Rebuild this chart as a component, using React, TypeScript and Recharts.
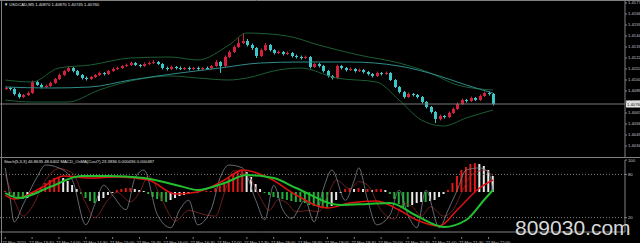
import { ComposedChart, Bar, Line, XAxis, YAxis, ReferenceLine, Cell } from 'recharts';

// USDCAD M5 candles, bar index 0..109
const opens = [
  1.40915, 1.4092, 1.4091, 1.4086, 1.4083, 1.4085, 1.4087, 1.4098, 1.4095, 1.4093,
  1.4094, 1.4097, 1.4101, 1.4105, 1.4109, 1.4112, 1.4109, 1.4105, 1.4102, 1.4101,
  1.4103, 1.4105, 1.4107, 1.4106, 1.4109, 1.4111, 1.4112, 1.4114, 1.4115, 1.4117,
  1.4115, 1.4114, 1.4116, 1.4117, 1.4118, 1.4116, 1.4112, 1.4111, 1.4113, 1.4112,
  1.4111, 1.4112, 1.4111, 1.4112, 1.4111, 1.4112, 1.41115, 1.4114, 1.4118, 1.4114,
  1.4123, 1.4128, 1.4133, 1.4137, 1.4139, 1.4135, 1.4132, 1.4124, 1.413, 1.4135,
  1.413, 1.4127, 1.4128, 1.4126, 1.4127, 1.4124, 1.4123, 1.4122, 1.4123, 1.4113,
  1.4116, 1.4114, 1.4109, 1.4104, 1.4102, 1.4114, 1.4112, 1.411, 1.4111, 1.4109,
  1.411, 1.4108, 1.4106, 1.4104, 1.4107, 1.4106, 1.4107, 1.41, 1.4093, 1.4088,
  1.4083, 1.4086, 1.4085, 1.4083, 1.4078, 1.4073, 1.4068, 1.4061, 1.4064, 1.4063,
  1.4067, 1.4071, 1.4076, 1.408, 1.4079, 1.4082, 1.408, 1.4084, 1.4087, 1.4086,
];
const highs = [
  1.40935, 1.4093, 1.40925, 1.40875, 1.4086, 1.40885, 1.40995, 1.4099, 1.40965, 1.40955,
  1.40985, 1.4102, 1.41065, 1.411, 1.4114, 1.4113, 1.411, 1.4106, 1.41035, 1.4104,
  1.4106, 1.41085, 1.4108, 1.411, 1.41125, 1.41135, 1.4115, 1.41165, 1.41185, 1.4118,
  1.4116, 1.41175, 1.41185, 1.412, 1.4119, 1.4117, 1.41135, 1.41145, 1.4114, 1.41135,
  1.4113, 1.41135, 1.4113, 1.41135, 1.4113, 1.41135, 1.4115, 1.412, 1.4119, 1.41245,
  1.41295, 1.41345, 1.4142, 1.4147, 1.4141, 1.41365, 1.4133, 1.41315, 1.4137, 1.4136,
  1.4131, 1.41295, 1.4129, 1.41285, 1.4128, 1.41255, 1.41245, 1.41245, 1.4124, 1.41175,
  1.4117, 1.4115, 1.411, 1.4105, 1.41155, 1.4115, 1.4113, 1.41125, 1.4112, 1.41115,
  1.4111, 1.4109, 1.4107, 1.41085, 1.4108, 1.41085, 1.4108, 1.4101, 1.4094, 1.4089,
  1.40875, 1.4087, 1.4086, 1.4084, 1.4079, 1.4074, 1.4069, 1.40655, 1.4065, 1.40685,
  1.40725, 1.40775, 1.40815, 1.4081, 1.40835, 1.4083, 1.40855, 1.40885, 1.40885, 1.4087,
];
const lows = [
  1.409, 1.40895, 1.40845, 1.40815, 1.4082, 1.4084, 1.4086, 1.4094, 1.40915, 1.4092,
  1.4093, 1.4096, 1.41, 1.4104, 1.4108, 1.41075, 1.4104, 1.41005, 1.40995, 1.41,
  1.4102, 1.4104, 1.41045, 1.4105, 1.4108, 1.411, 1.4111, 1.4113, 1.4114, 1.4114,
  1.41125, 1.4113, 1.4115, 1.4116, 1.4115, 1.41105, 1.41095, 1.411, 1.41105, 1.411,
  1.411, 1.41095, 1.411, 1.41095, 1.411, 1.411, 1.41105, 1.4113, 1.4107, 1.4113,
  1.4122, 1.4127, 1.4132, 1.4136, 1.41335, 1.413, 1.4122, 1.4123, 1.4129, 1.41285,
  1.41255, 1.4126, 1.41245, 1.4125, 1.41225, 1.41215, 1.41205, 1.4121, 1.41115, 1.4112,
  1.41125, 1.41075, 1.41025, 1.41005, 1.4101, 1.41105, 1.41085, 1.4109, 1.41075, 1.4108,
  1.41065, 1.41045, 1.41025, 1.4103, 1.41045, 1.4105, 1.4099, 1.4092, 1.40865, 1.40815,
  1.4082, 1.40835, 1.40815, 1.40765, 1.40715, 1.40665, 1.4057, 1.40595, 1.40615, 1.4062,
  1.4066, 1.407, 1.4075, 1.40775, 1.4078, 1.4079, 1.4079, 1.4083, 1.40845, 1.40745,
];
const closes = [
  1.4092, 1.4091, 1.4086, 1.4083, 1.4085, 1.4087, 1.4098, 1.4095, 1.4093, 1.4094,
  1.4097, 1.4101, 1.4105, 1.4109, 1.4112, 1.4109, 1.4105, 1.4102, 1.4101, 1.4103,
  1.4105, 1.4107, 1.4106, 1.4109, 1.4111, 1.4112, 1.4114, 1.4115, 1.4117, 1.4115,
  1.4114, 1.4116, 1.4117, 1.4118, 1.4116, 1.4112, 1.4111, 1.4113, 1.4112, 1.4111,
  1.4112, 1.4111, 1.4112, 1.4111, 1.4112, 1.41115, 1.4114, 1.4118, 1.4114, 1.4123,
  1.4128, 1.4133, 1.4137, 1.4139, 1.4135, 1.4132, 1.4124, 1.413, 1.4135, 1.413,
  1.4127, 1.4128, 1.4126, 1.4127, 1.4124, 1.4123, 1.4122, 1.4123, 1.4113, 1.4116,
  1.4114, 1.4109, 1.4104, 1.4102, 1.4114, 1.4112, 1.411, 1.4111, 1.4109, 1.411,
  1.4108, 1.4106, 1.4104, 1.4107, 1.4106, 1.4107, 1.41, 1.4093, 1.4088, 1.4083,
  1.4086, 1.4085, 1.4083, 1.4078, 1.4073, 1.4068, 1.4061, 1.4064, 1.4063, 1.4067,
  1.4071, 1.4076, 1.408, 1.4079, 1.4082, 1.408, 1.4084, 1.4087, 1.4086, 1.4076,
];

// [bar index, value] points of the overlays
const maPoints = [
  [0, 1.4093], [10, 1.4092], [19, 1.4093], [28, 1.41], [39, 1.4107], [48, 1.4112], [57, 1.4117],
  [66, 1.4118], [77, 1.4118], [88, 1.4114], [97, 1.4104], [103, 1.4095], [109, 1.4087],
];
const upperBand = [
  [0, 1.41], [6, 1.4098], [12, 1.4112], [19, 1.4115], [28, 1.4122], [37, 1.4123], [43, 1.412],
  [50, 1.4135], [54, 1.4147], [63, 1.4144], [70, 1.4135], [79, 1.4125], [88, 1.4117], [95, 1.4107],
  [101, 1.4095], [109, 1.409],
];
const lowerBand = [
  [0, 1.408], [6, 1.4078], [14, 1.4078], [21, 1.409], [29, 1.41], [37, 1.4104], [43, 1.4102],
  [50, 1.41], [54, 1.4102], [61, 1.411], [66, 1.4112], [74, 1.4102], [83, 1.4098], [88, 1.408],
  [93, 1.406], [98, 1.4054], [103, 1.4062], [109, 1.407],
];

// lower window: OsMA histogram (points), MACD lines (points), stochastic
const osma = [
  1, -2, -4, -6, -7, -6, -3, 1, 5, 9,
  12, 14, 15, 14, 11, 7, 3, -2, -6, -9,
  -11, -9, -6, -3, -1, 2, 3, 4, 4, 3,
  2, 1, -2, -5, -7, -9, -10, -8, -6, -4,
  -3, -2, -1, -1, 0, 1, 1, 4, 6, 10,
  14, 17, 20, 22, 20, 15, 8, 3, -1, -3,
  -5, -6, -7, -8, -9, -10, -10, -11, -13, -14,
  -15, -16, -16, -14, -8, -1, 3, 4, 3, 4,
  3, 3, 2, 3, 3, 2, -2, -7, -12, -15,
  -15, -13, -11, -10, -10, -9, -8, -5, -2, 2,
  9, 16, 22, 25, 28, 29, 28, 26, 22, 16,
];
const macdPoints = [
  [0, -3], [2, -7], [8, 4], [13, 16], [19, 14], [25, 15], [32, 12], [38, -2], [43, 0], [49, 12],
  [53, 22], [59, 14], [65, -3], [72, -16], [77, -11], [83, -9], [88, -18], [92, -28], [97, -34],
  [101, -18], [106, 4], [109, 12],
];
const signalPoints = [
  [0, -1], [3, -6], [10, 5], [17, 16], [23, 16], [31, 14], [39, 6], [43, 2], [49, 9], [54, 17],
  [60, 14], [65, 4], [75, -13], [81, -12], [86, -11], [92, -24], [98, -35], [103, -28], [107, -8],
  [109, 2],
];
const stochMain = [
  [0, 89], [1, 51], [2, 14], [4, 38], [7, 75], [9, 93], [12, 89], [15, 72], [18, 10], [20, 38],
  [22, 65], [24, 51], [27, 31], [29, 75], [31, 86], [34, 24], [37, 6], [39, 31], [41, 44], [43, 10],
  [46, 31], [48, 75], [50, 93], [53, 89], [56, 44], [58, 17], [60, 65], [62, 31], [64, 19], [67, 44],
  [69, 14], [71, 58], [73, 86], [76, 44], [78, 72], [79, 89], [81, 44], [83, 10], [86, 24], [88, 58],
  [90, 24], [92, 6], [94, 58], [97, 6], [99, 31], [101, 58], [103, 86], [106, 89], [108, 83], [109, 58],
];
const stochSignal = [
  [0, 80], [2, 45], [4, 22], [6, 35], [9, 72], [12, 88], [15, 82], [18, 40], [20, 20], [23, 45],
  [25, 55], [28, 42], [30, 55], [32, 78], [35, 45], [38, 15], [41, 30], [44, 25], [47, 22], [49, 55],
  [51, 85], [54, 80], [57, 48], [59, 30], [61, 45], [63, 40], [65, 28], [68, 30], [70, 28], [72, 50],
  [74, 72], [77, 60], [79, 70], [81, 65], [84, 30], [87, 18], [89, 40], [91, 35], [93, 22], [95, 35],
  [98, 22], [100, 30], [102, 55], [104, 78], [107, 86], [109, 78],
];

const priceTicks = [1.4177, 1.4166, 1.4155, 1.4144, 1.4133, 1.4122, 1.4111, 1.41, 1.4089, 1.4078, 1.4067, 1.4056, 1.4045, 1.4034];
const timeTicks = [0, 6, 12, 18, 24, 30, 36, 42, 48, 54, 60, 66, 72, 78, 84, 90, 96, 102, 108];
const timeLabels = [
  '27 Mar 2020', '27 Mar 13:30', '27 Mar 14:00', '27 Mar 14:30', '27 Mar 15:00', '27 Mar 15:30',
  '27 Mar 16:00', '27 Mar 16:30', '27 Mar 17:00', '27 Mar 17:30', '27 Mar 18:00', '27 Mar 18:30',
  '27 Mar 19:00', '27 Mar 19:30', '27 Mar 20:00', '27 Mar 20:30', '27 Mar 21:00', '27 Mar 21:30',
  '27 Mar 22:00',
];

const SLOTS = 139; // chart shift leaves empty space on the right
const UP = '#d4203f';
const DOWN = '#3cc8c8';
const GRID = '#808080';
const FONT = 'Liberation Sans, Arial, sans-serif';

const rows: any[] = [];
for (let i = 0; i < SLOTS; i++) {
  const r: any = { i };
  if (i < closes.length) {
    r.open = opens[i];
    r.high = highs[i];
    r.low = lows[i];
    r.close = closes[i];
    r.osma = osma[i];
  }
  rows.push(r);
}
const put = (pts: number[][], key: string) => pts.forEach(([i, v]) => { rows[i][key] = v; });
put(maPoints, 'ma');
put(upperBand, 'up');
put(lowerBand, 'dn');
put(macdPoints, 'macd');
put(signalPoints, 'sig');
put(stochMain, 'st');
put(stochSignal, 'sts');

const last = closes[closes.length - 1];

const Candle = (props: any) => {
  const { x, y, width, height, payload } = props;
  if (!payload || payload.high == null) return null;
  const top = Math.min(y, y + height);
  const h = Math.abs(height);
  const k = payload.high > payload.low ? h / (payload.high - payload.low) : 0;
  const yo = top + (payload.high - payload.open) * k;
  const yc = top + (payload.high - payload.close) * k;
  const color = payload.close >= payload.open ? UP : DOWN;
  const cx = Math.round(x + width / 2) + 0.5;
  return (
    <g>
      <line x1={cx} x2={cx} y1={top} y2={top + h} stroke={color} strokeWidth={1} />
      <rect x={cx - 1.5} y={Math.min(yo, yc)} width={3} height={Math.max(1, Math.abs(yc - yo))} fill={color} />
    </g>
  );
};

const osmaColor = (i: number) => {
  const v = osma[i];
  const p = i > 0 ? osma[i - 1] : 0;
  if (v >= 0) return v >= p ? '#e01818' : '#e8e8e8';
  return v <= p ? '#22b03a' : '#e8e8e8';
};

const TimeTick = (props: any) => {
  const { x, y, payload } = props;
  const idx = timeTicks.indexOf(payload.value);
  return (
    <g>
      <line x1={x} x2={x} y1={y - 3} y2={y - 1} stroke={GRID} />
      <text x={x - 3} y={y + 3.5} fontSize={4.2} fill="#c8c8c8" fontFamily={FONT} textAnchor="start">
        {idx >= 0 ? timeLabels[idx] : ''}
      </text>
    </g>
  );
};

const PriceTag = (p: any) => {
  const vb = p.viewBox;
  if (!vb) return null;
  const x = vb.x + vb.width;
  return (
    <g>
      <rect x={x + 1} y={vb.y - 3.5} width={15} height={7} fill="#e6e6e6" />
      <text x={x + 2} y={vb.y + 1.6} fontSize={4.2} fill="#000" fontFamily={FONT}>{last.toFixed(5)}</text>
    </g>
  );
};

const lineProps = { dot: false, activeDot: false, connectNulls: true, isAnimationActive: false, type: 'monotone' as const };

export default function App() {
  return (
    <div style={{ position: 'relative', width: 640, height: 243, background: '#000', overflow: 'hidden' }}>
      <style>{'body{margin:0;background:#000}'}</style>

      <ComposedChart width={640} height={157} data={rows} margin={{ top: 0, right: 0, left: 0, bottom: 0 }}>
        <XAxis dataKey="i" type="category" hide padding={{ left: 3, right: 0 }} />
        <YAxis
          orientation="right"
          width={15}
          domain={[1.4023, 1.418]}
          allowDataOverflow
          ticks={priceTicks}
          interval={0}
          tickFormatter={(v: number) => v.toFixed(5)}
          tick={{ fontSize: 4.2, fill: '#c8c8c8', fontFamily: FONT }}
          tickSize={2}
          tickMargin={1}
          stroke={GRID}
        />
        <Line dataKey="up" stroke="#1b5e34" strokeWidth={1} {...lineProps} />
        <Line dataKey="dn" stroke="#1b5e34" strokeWidth={1} {...lineProps} />
        <Line dataKey="ma" stroke="#2f8c8a" strokeWidth={1} {...lineProps} />
        <ReferenceLine y={last} stroke="#7a7a7a" label={PriceTag} />
        <Bar
          dataKey={(r: any) => (r.high == null ? null : [r.low, r.high])}
          barSize={3}
          shape={Candle}
          activeBar={false}
          isAnimationActive={false}
        />
      </ComposedChart>

      <div style={{ borderTop: '1px solid #808080', height: 85 }}>
        <ComposedChart width={640} height={85} data={rows} margin={{ top: 2, right: 0, left: 0, bottom: 0 }}>
          <XAxis
            dataKey="i"
            type="category"
            padding={{ left: 3, right: 0 }}
            ticks={timeTicks}
            interval={0}
            tick={TimeTick}
            tickLine={false}
            height={11}
            stroke={GRID}
          />
          <YAxis
            yAxisId="st"
            orientation="right"
            width={15}
            domain={[0, 100]}
            ticks={[100, 80, 20]}
            interval={0}
            tick={{ fontSize: 4.2, fill: '#c8c8c8', fontFamily: FONT }}
            tickSize={2}
            tickMargin={1}
            stroke={GRID}
          />
          <YAxis yAxisId="os" hide domain={[-40, 32]} allowDataOverflow />
          <ReferenceLine yAxisId="st" y={80} stroke={GRID} strokeDasharray="1 2" />
          <ReferenceLine yAxisId="st" y={20} stroke={GRID} strokeDasharray="1 2" />
          <Bar yAxisId="os" dataKey="osma" barSize={2} activeBar={false} isAnimationActive={false}>
            {rows.map((r) => (
              <Cell key={r.i} fill={r.osma == null ? 'none' : osmaColor(r.i)} />
            ))}
          </Bar>
          <Line yAxisId="st" dataKey="sts" stroke="#8a2626" strokeWidth={0.8} {...lineProps} />
          <Line yAxisId="st" dataKey="st" stroke="#7c848c" strokeWidth={0.8} {...lineProps} />
          <Line yAxisId="os" dataKey="macd" stroke="#e01010" strokeWidth={1.5} {...lineProps} />
          <Line yAxisId="os" dataKey="sig" stroke="#22c030" strokeWidth={2} {...lineProps} />
        </ComposedChart>
      </div>

      <svg width={640} height={243} style={{ position: 'absolute', left: 0, top: 0, pointerEvents: 'none' }}>
        <line x1={0} x2={640} y1={0.5} y2={0.5} stroke={GRID} />
        <line x1={1.5} x2={1.5} y1={0} y2={243} stroke={GRID} />
        <text x={4} y={6} fontSize={4.2} fill="#e0e0e0" fontFamily={FONT}>▼ USDCAD,M5  1.40870 1.40870 1.40745 1.40760</text>
        <text x={4} y={163} fontSize={4.2} fill="#e0e0e0" fontFamily={FONT}>Stoch(5,3,3) 46.8635 48.6402  MACD_OsMA(Cust?) 23.3836 0.000436 0.000487</text>
        <text x={515} y={235} fontSize={21} fill="#d8d8d8" fontFamily={FONT}>809030.com</text>
      </svg>
    </div>
  );
}
